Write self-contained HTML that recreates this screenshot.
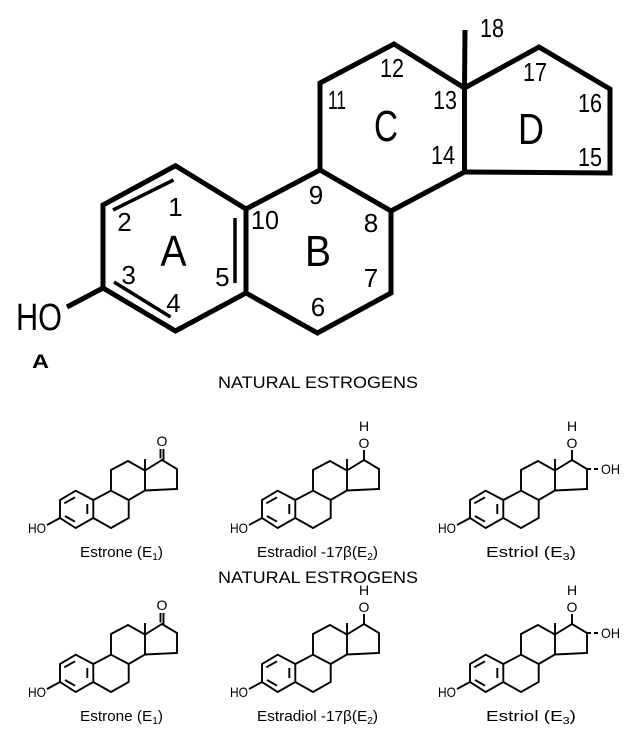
<!DOCTYPE html>
<html><head><meta charset="utf-8"><style>
html,body{margin:0;padding:0;background:#fff;}
svg{display:block;}
text{font-family:"Liberation Sans",sans-serif;fill:#000;}
</style></head><body>
<svg width="637" height="752" viewBox="0 0 637 752" xmlns="http://www.w3.org/2000/svg">
<defs>
<g id="sk" fill="none" stroke="#000" stroke-width="1.9" stroke-linejoin="miter">
<path d="M75.7,490.7 L60,500 L60,518 L75.7,528 L93.3,518 L93.3,500 Z"/>
<path d="M93.3,500 L111,490.7 L128.7,500 L128.7,518 L111,528 L93.3,518"/>
<path d="M111,490.7 L111,470 L128,461 L145,470.5 L145,490.5 L128.7,500"/>
<path d="M145,470.5 L162,460 L177,469 L177,489 L145,490.5"/>
<path d="M145,470.5 L145,459"/>
<path d="M60,518 L47,525"/>
<path d="M64.3,503.3 L75,497.3 M87.3,504 L87.3,514 M65,516 L75,521.7"/>
</g>
</defs>

<g fill="none" stroke="#000" stroke-width="5" stroke-linejoin="miter">
<path d="M175.5,165.7 L103,205 L103,288 L175.5,331 L246,293 L246,209 Z"/>
<path d="M246,209 L320,170 L391,211 L391,293 L317.5,333 L246,293"/>
<path d="M320,170 L320,83 L394,44 L464.5,88 L464.5,172 L391,211"/>
<path d="M464.5,88 L539,47 L610,89 L610,173 L464.5,172"/>
<path d="M464.5,88 L465,30"/>
<path d="M103,288 L67,307"/>
<path d="M113,210 L173.5,180 M235,218 L235,283 M114,282 L170.6,317" stroke-width="3.5"/>
</g>
<g font-size="26">
<text x="175.5" y="216" text-anchor="middle">1</text>
<text x="124.5" y="231" text-anchor="middle">2</text>
<text x="128.6" y="284" text-anchor="middle">3</text>
<text x="173.5" y="312" text-anchor="middle">4</text>
<text x="222.4" y="286" text-anchor="middle">5</text>
<text x="265" y="229" text-anchor="middle" textLength="28" lengthAdjust="spacingAndGlyphs">10</text>
<text x="316" y="204" text-anchor="middle">9</text>
<text x="371" y="232" text-anchor="middle">8</text>
<text x="371" y="287" text-anchor="middle">7</text>
<text x="318" y="316" text-anchor="middle">6</text>
<text x="337" y="109" text-anchor="middle" textLength="18" lengthAdjust="spacingAndGlyphs">11</text>
<text x="392" y="77" text-anchor="middle" textLength="24" lengthAdjust="spacingAndGlyphs">12</text>
<text x="445" y="109" text-anchor="middle" textLength="24" lengthAdjust="spacingAndGlyphs">13</text>
<text x="443" y="164" text-anchor="middle" textLength="24" lengthAdjust="spacingAndGlyphs">14</text>
<text x="535" y="81" text-anchor="middle" textLength="24" lengthAdjust="spacingAndGlyphs">17</text>
<text x="590" y="112" text-anchor="middle" textLength="24" lengthAdjust="spacingAndGlyphs">16</text>
<text x="590" y="166" text-anchor="middle" textLength="24" lengthAdjust="spacingAndGlyphs">15</text>
<text x="492" y="37" text-anchor="middle" textLength="24" lengthAdjust="spacingAndGlyphs">18</text>
</g>
<g font-size="44">
<text x="173.5" y="266" text-anchor="middle" textLength="26" lengthAdjust="spacingAndGlyphs">A</text>
<text x="318" y="266" text-anchor="middle" textLength="26" lengthAdjust="spacingAndGlyphs">B</text>
<text x="386" y="141" text-anchor="middle" textLength="24" lengthAdjust="spacingAndGlyphs">C</text>
<text x="531" y="144" text-anchor="middle" textLength="26" lengthAdjust="spacingAndGlyphs">D</text>
</g>
<text x="16" y="330" font-size="38" textLength="46" lengthAdjust="spacingAndGlyphs">HO</text>
<text x="32" y="368" font-size="19" font-weight="bold" textLength="17" lengthAdjust="spacingAndGlyphs">A</text>

<text x="318" y="388" font-size="17" text-anchor="middle" textLength="200" lengthAdjust="spacingAndGlyphs">NATURAL ESTROGENS</text>
<text x="318" y="583" font-size="17" text-anchor="middle" textLength="200" lengthAdjust="spacingAndGlyphs">NATURAL ESTROGENS</text>

<g id="mols">
<use href="#sk"/>
<use href="#sk" transform="translate(202,0)"/>
<use href="#sk" transform="translate(410,0)"/>
<g stroke="#000" stroke-width="1.9" fill="none">
<path d="M160.5,449 L160.5,458.5 M163.5,449 L163.5,460"/>
<path d="M364,460 L364,450"/>
<path d="M572,460 L572,450"/>
<path d="M587,469 L591,469 M594,469 L598,469" stroke-width="2"/>
</g>
<g font-size="14">
<text x="28" y="533" textLength="18" lengthAdjust="spacingAndGlyphs">HO</text>
<text x="230" y="533" textLength="18" lengthAdjust="spacingAndGlyphs">HO</text>
<text x="438" y="533" textLength="18" lengthAdjust="spacingAndGlyphs">HO</text>
<text x="162" y="446" text-anchor="middle">O</text>
<text x="364" y="448" text-anchor="middle">O</text>
<text x="364" y="431" text-anchor="middle">H</text>
<text x="572" y="448" text-anchor="middle">O</text>
<text x="572" y="431" text-anchor="middle">H</text>
<text x="601" y="474" textLength="19" lengthAdjust="spacingAndGlyphs">OH</text>
</g>
<g font-size="15">
<text x="80" y="557" textLength="83" lengthAdjust="spacingAndGlyphs">Estrone (E<tspan font-size="10" dy="3">1</tspan><tspan dy="-3">)</tspan></text>
<text x="257" y="557" textLength="121" lengthAdjust="spacingAndGlyphs">Estradiol -17β(E<tspan font-size="10" dy="3">2</tspan><tspan dy="-3">)</tspan></text>
<text x="486" y="557" textLength="90" lengthAdjust="spacingAndGlyphs">Estriol  (E<tspan font-size="10" dy="3">3</tspan><tspan dy="-3">)</tspan></text>
</g>
</g>
<use href="#mols" transform="translate(0,164)"/>
</svg>
</body></html>
